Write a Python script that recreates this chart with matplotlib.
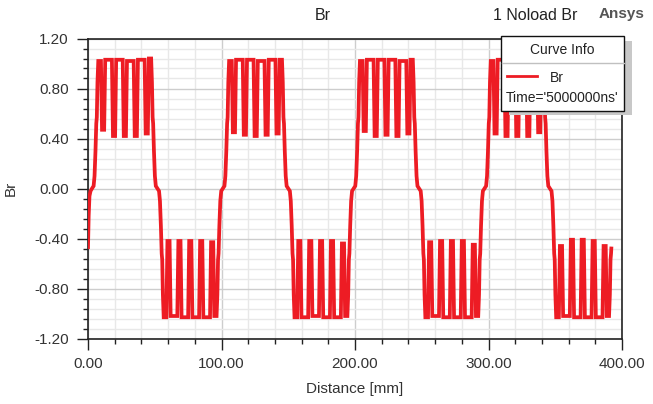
import matplotlib
matplotlib.use("Agg")
import matplotlib.pyplot as plt
from matplotlib.patches import Rectangle
from matplotlib.lines import Line2D
from matplotlib.ticker import MultipleLocator, FormatStrFormatter

plt.rcParams['font.family'] = ['Liberation Sans', 'DejaVu Sans']
plt.rcParams['axes.unicode_minus'] = False

# ---------------- data ----------------
pole_start_mm = [3.0, 52.0, 101.0, 150.0, 199.0, 248.0, 297.0, 346.0]
pole_sign = [1, -1, 1, -1, 1, -1, 1, -1]
pole_pitch_mm = 49.0
edge_offset_mm = [0.0, 1.2, 1.9, 2.6, 3.2, 3.6, 4.1, 4.7]
edge_level = [0.0, 0.02, 0.10, 0.30, 0.52, 0.57, 0.85, 1.00]
slot_offset_mm = [8.3, 16.5, 24.6, 32.8, 41.0]
slot_edge_mm = [1.6, 0.8]
dip_level = [
    [0.47, 0.42, 0.42, 0.42, 0.44],
    [0.42, 0.42, 0.42, 0.42, 0.43],
    [0.45, 0.43, 0.42, 0.43, 0.44],
    [0.42, 0.42, 0.42, 0.42, 0.44],
    [0.46, 0.42, 0.43, 0.42, 0.44],
    [0.43, 0.42, 0.42, 0.42, 0.45],
    [0.44, 0.42, 0.42, 0.42, 0.45],
    [0.46, 0.41, 0.41, 0.42, 0.46],
]
top_level = [
    [1.02, 1.03, 1.03, 1.02, 1.03, 1.04],
    [1.03, 1.02, 1.03, 1.03, 1.03, 1.02],
    [1.02, 1.03, 1.03, 1.02, 1.03, 1.03],
    [1.03, 1.03, 1.02, 1.03, 1.03, 1.02],
    [1.02, 1.03, 1.03, 1.03, 1.02, 1.03],
    [1.03, 1.02, 1.03, 1.03, 1.03, 1.02],
    [1.02, 1.03, 1.04, 1.03, 1.03, 1.03],
    [1.03, 1.02, 1.03, 1.03, 1.03, 1.02],
]
start_x = [0.0, 0.5, 1.1, 1.9]
start_y = [-0.47, -0.22, -0.06, -0.02]
end_x, end_y = 392.0, -0.48

x_ticks = [0, 100, 200, 300, 400]
y_ticks = [-1.2, -0.8, -0.4, 0.0, 0.4, 0.8, 1.2]

# ---------------- assemble the curve ----------------
xs, ys = list(start_x), list(start_y)
for k, c in enumerate(pole_start_mm):
    s = pole_sign[k]
    tops = top_level[k]
    dips = dip_level[k]
    e = c + pole_pitch_mm
    for t, m in zip(edge_offset_mm, edge_level):
        xs.append(c + t)
        ys.append(s * (tops[0] if m == 1.0 else m))
    for j, d in enumerate(slot_offset_mm):
        xs += [c + d - slot_edge_mm[0], c + d - slot_edge_mm[1],
               c + d + slot_edge_mm[1], c + d + slot_edge_mm[0]]
        ys += [s * tops[j], s * dips[j], s * dips[j], s * tops[j + 1]]
    for t, m in reversed(list(zip(edge_offset_mm[1:], edge_level[1:]))):
        xs.append(e - t)
        ys.append(s * (tops[5] if m == 1.0 else m))
cx, cy = [], []
for a, b in zip(xs, ys):
    if a < end_x:
        cx.append(a)
        cy.append(b)
cx.append(end_x)
cy.append(end_y)

# ---------------- figure ----------------
W, H = 653, 404
fig = plt.figure(figsize=(W / 100, H / 100), dpi=100)
ax = fig.add_axes([88 / W, 1 - 338.5 / H, 534 / W, 300 / H])

ax.plot(cx, cy, color='#ED1C24', lw=2.7, solid_joinstyle='miter', zorder=3)

ax.set_xlim(0, 400)
ax.set_ylim(-1.2, 1.2)
ax.set_xticks(x_ticks)
ax.set_yticks(y_ticks)
ax.xaxis.set_minor_locator(MultipleLocator(20))
ax.yaxis.set_minor_locator(MultipleLocator(0.08))
ax.xaxis.set_major_formatter(FormatStrFormatter('%.2f'))
ax.yaxis.set_major_formatter(FormatStrFormatter('%.2f'))
ax.grid(which='minor', color='#e8e8e8', lw=1.0, zorder=0)
ax.grid(which='major', color='#cdcdcd', lw=1.0, zorder=0)
ax.set_axisbelow(True)
ax.tick_params(which='major', direction='out', length=8, width=1.0,
               color='#222222', labelsize=11, labelcolor='#333333', pad=5)
ax.tick_params(which='minor', direction='out', length=3.5, width=1.0,
               color='#222222')
ax.tick_params(axis='y', which='major', pad=6)
for sp in ax.spines.values():
    sp.set_color('#222222')
    sp.set_linewidth(1.2)

ax.set_xlabel('Distance [mm]', fontsize=11, color='#333333', labelpad=8)
ax.set_ylabel('Br', fontsize=11, color='#333333', labelpad=12)


def fx(px):
    return px / W


def fy(py):
    return 1 - py / H


fig.text(fx(323), fy(15), 'Br', fontsize=11.5, color='#222222',
         ha='center', va='center')
fig.text(fx(535), fy(15), '1 Noload Br', fontsize=11.5, color='#222222',
         ha='center', va='center')
fig.text(fx(622), fy(14), 'Ansys', fontsize=11, color='#555555',
         fontweight='bold', ha='center', va='center')

# legend box ("Curve Info")
shadow = Rectangle((fx(509), fy(115.5)), fx(632) - fx(509), fy(41.5) - fy(115.5),
                   transform=fig.transFigure, facecolor='#c8c8c8',
                   edgecolor='none', zorder=5)
box = Rectangle((fx(501), fy(111)), fx(624) - fx(501), fy(35.7) - fy(111),
                transform=fig.transFigure, facecolor='white',
                edgecolor='#111111', lw=1.0, zorder=6)
fig.add_artist(shadow)
fig.add_artist(box)
fig.add_artist(Line2D([fx(501.5), fx(623.5)], [fy(63.3), fy(63.3)],
                      transform=fig.transFigure, color='#c0c0c0', lw=1.0,
                      zorder=7))
fig.add_artist(Line2D([fx(506.7), fx(536.7)], [fy(75.7), fy(75.7)],
                      transform=fig.transFigure, color='#ED1C24', lw=2.0,
                      zorder=7))
fig.text(fx(562.7), fy(50.5), 'Curve Info', fontsize=10, color='#222222',
         ha='center', va='center', zorder=8)
fig.text(fx(557), fy(78), 'Br', fontsize=10, color='#222222',
         ha='center', va='center', zorder=8)
fig.text(fx(562.5), fy(98), "Time='5000000ns'", fontsize=10, color='#222222',
         ha='center', va='center', zorder=8)

fig.savefig('out.png', dpi=100)
